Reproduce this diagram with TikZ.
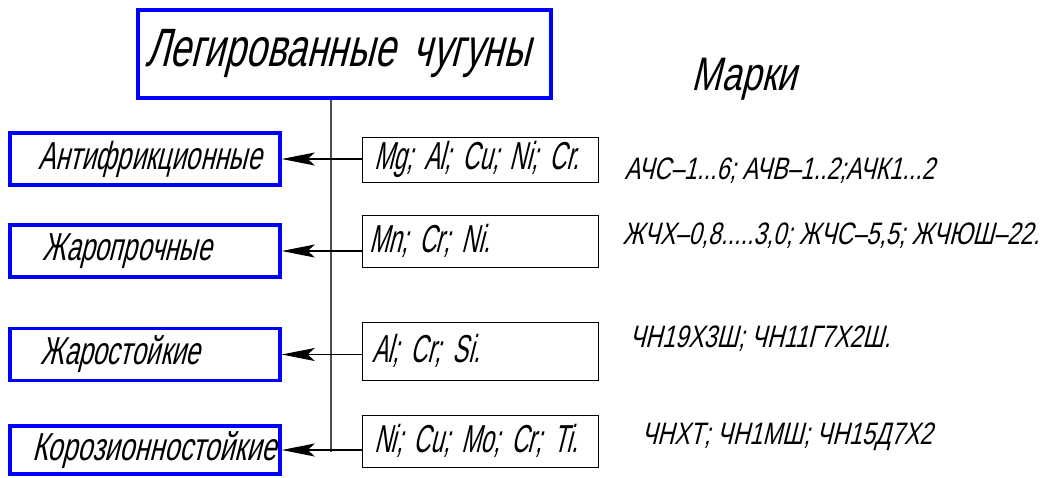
\documentclass[tikz,border=0pt]{standalone}
\usepackage{fontspec}
\setmainfont{Liberation Sans}[FakeStretch=0.69, FakeSlant=0.25]
\newfontfamily\srednij{Liberation Sans}[FakeStretch=0.66, FakeSlant=0.25]
\newfontfamily\uzkij{Liberation Sans}[FakeStretch=0.6, FakeSlant=0.25]
\newfontfamily\shirokij{Liberation Sans}[FakeStretch=0.755, FakeSlant=0.25]
\usetikzlibrary{arrows.meta, positioning}

\begin{document}
\begin{tikzpicture}[x=1pt, y=-1pt,
        vid/.style={draw=blue, line width=3.5pt, minimum height=52pt, text width=214pt,
            inner xsep=28pt, align=left, font=\srednij\fontsize{39}{41}\selectfont},
        sostav/.style={draw, line width=1pt, text width=212pt, inner xsep=12pt, align=left,
            font=\uzkij\fontsize{39}{41}\selectfont, execute at begin node={\spaceskip=11pt\relax}},
        marka/.style={anchor=west, font=\shirokij\fontsize{31}{33}\selectfont},
        strelka/.style={line width=1.3pt, -{Stealth[length=33pt, width=13pt, inset=7pt]}}]
    \useasboundingbox (0,0) rectangle (1046,477);

    \node[draw=blue, line width=3.5pt, minimum height=88pt, text width=399pt, inner xsep=7pt,
        align=left, font=\fontsize{54}{56}\selectfont] (title) at (344.5,54) {Легированные чугуны};
    \node[font=\shirokij\fontsize{47}{49}\selectfont] (marki) at (744,79) {Марки};

    % виды чугунов
    \node[vid] (antifr) at (145,159) {Антифрикционные};
    \node[vid, inner xsep=32pt, text width=206pt] (zharpr) at (145,251) {Жаропрочные};
    \node[vid, inner xsep=30pt, text width=210pt] (zharst) at (145,354.5) {Жаростойкие};
    \node[vid, inner xsep=22pt, text width=226pt, minimum height=48pt,
        font=\fontsize{39}{41}\selectfont] (koroz) at (145,450) {Корозионностойкие};

    % легирующие элементы
    \node[sostav, inner xsep=12pt, text width=212pt, minimum height=45pt] (mg) at (480,159.5) {Mg; Al; Cu; Ni; Cr.};
    \node[sostav, inner xsep=7pt, text width=222pt, minimum height=52pt] (mn) at (480,241) {Mn; Cr; Ni.};
    \node[sostav, inner xsep=10pt, text width=216pt, minimum height=58pt] (al) at (480,351) {Al; Cr; Si.};
    \node[sostav, inner xsep=12pt, text width=212pt, minimum height=52pt] (ni) at (480,441) {Ni; Cu; Mo; Cr; Ti.};

    % марки
    \node[marka] (m1) at (621,171) {АЧС–1...6; АЧВ–1..2;АЧК1...2};
    \node[marka] (m2) at (619,236) {ЖЧХ–0,8.....3,0; ЖЧС–5,5; ЖЧЮШ–22.};
    \node[marka] (m3) at (626,339) {ЧН19Х3Ш; ЧН11Г7Х2Ш.};
    \node[marka] (m4) at (638,437) {ЧНХТ; ЧН1МШ; ЧН15Д7Х2};

    \coordinate (niz) at (331,452);
    \draw[gray!60!black, line width=1.5pt] (title.south -| niz) -- (niz);

    \draw[strelka] (mg.west |- antifr.east) to (antifr.east);
    \draw[strelka] (mn.west |- zharpr.east) to (zharpr.east);
    \draw[strelka] (al.west |- zharst.east) to (zharst.east);
    \draw[strelka] (ni.west |- koroz.east) to (koroz.east);
\end{tikzpicture}
\end{document}
